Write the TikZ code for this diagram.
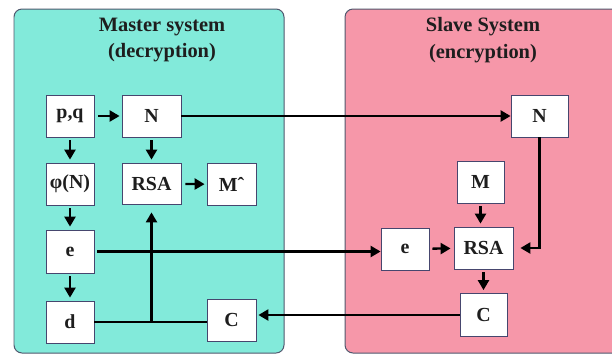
\documentclass[tikz,border=0pt]{standalone}
\usepackage{fontspec}
\setmainfont{Liberation Serif}
\usetikzlibrary{arrows.meta}
\definecolor{masterfill}{RGB}{130,234,218}
\definecolor{slavefill}{RGB}{246,151,169}
\definecolor{panelline}{RGB}{80,88,110}
\definecolor{boxline}{RGB}{70,70,110}
\definecolor{txt}{RGB}{30,30,30}
\tikzset{
  panel/.style={draw=panelline, line width=1pt, rounded corners=8bp},
  blk/.style={draw=boxline, fill=white, line width=0.8pt, inner sep=0pt,
    font=\fontsize{20}{22}\selectfont\bfseries, text=txt},
  ttl/.style={font=\fontsize{20.5}{27}\selectfont\bfseries, text=txt, align=center},
  conn/.style={line width=2.3bp, draw=black},
  arr/.style={conn, -{Triangle[length=10bp,width=11bp]}},
}
\begin{document}
\begin{tikzpicture}[x=1bp,y=-1bp]
\useasboundingbox (0,0) rectangle (612,356);
\fill[white] (0,0) rectangle (612,356);
% panels
\draw[panel, fill=masterfill] (14,9) rectangle (284,353);
\draw[panel, fill=slavefill] (345,9) rectangle (622,353);
\node[ttl] (tm) at (162,40) {Master system\\(decryption)};
\node[ttl] (ts) at (483,40) {Slave System\\(encryption)};
% master boxes
\node[blk, minimum width=48bp, minimum height=42bp] (pq) at (70,116) {p,q};
\node[blk, minimum width=59bp, minimum height=42bp] (nm) at (151.5,116) {N};
\node[blk, minimum width=48bp, minimum height=42bp] (phi) at (70,184) {φ(N)};
\node[blk, minimum width=59bp, minimum height=41bp] (rm) at (151.5,183.5) {RSA};
\node[blk, minimum width=49bp, minimum height=42bp] (mh) at (231.5,184.5) {Mˆ};
\node[blk, minimum width=48bp, minimum height=43bp] (em) at (70,251.5) {e};
\node[blk, minimum width=48bp, minimum height=42bp] (d) at (70,322) {d};
\node[blk, minimum width=49bp, minimum height=42bp] (cm) at (231.5,320) {C};
% slave boxes
\node[blk, minimum width=57bp, minimum height=42bp] (ns) at (539.5,116) {N};
\node[blk, minimum width=47bp, minimum height=42bp] (m) at (480.5,182) {M};
\node[blk, minimum width=48bp, minimum height=42bp] (es) at (405,249) {e};
\node[blk, minimum width=59bp, minimum height=42bp] (rs) at (483.5,248) {RSA};
\node[blk, minimum width=47bp, minimum height=43bp] (cs) at (483.5,315) {C};
% master connectors
\draw[arr, shorten <=4bp, shorten >=2bp] (pq) -- (nm);
\draw[arr, shorten <=3bp, shorten >=3bp] (pq) -- (phi);
\draw[arr, shorten <=3bp, shorten >=3bp] (nm) -- (rm);
\draw[arr, shorten <=3bp, shorten >=3bp] (phi) -- (em);
\draw[arr, shorten <=3bp, shorten >=3bp] (em) -- (d);
\draw[arr, shorten <=4bp, shorten >=2bp] (rm) -- (mh);
\draw[conn] (d.east) -- (cm.west |- d.east);
\coordinate (j) at (rm.south |- d.east);
\draw[arr, shorten >=8bp] (j) -- (rm.south);
% cross connectors
\draw[arr] (nm.east) -- (ns.west);
\draw[arr, shorten <=3bp] (em.east) -- (es.west |- em.east);
\draw[arr, shorten >=2bp] (cs.west) -- (cm.east |- cs.west);
% slave connectors
\draw[arr, shorten <=3bp, shorten >=3bp] (es) -- (rs);
\draw[arr, shorten <=3bp, shorten >=3bp] (m) -- (rs.north -| m);
\draw[arr, shorten <=3bp, shorten >=3bp] (rs) -- (cs);
\coordinate (nk) at (ns.south |- rs.east);
\draw[arr, shorten >=7bp] (ns.south) -- (nk) -- (rs.east);
\end{tikzpicture}
\end{document}
